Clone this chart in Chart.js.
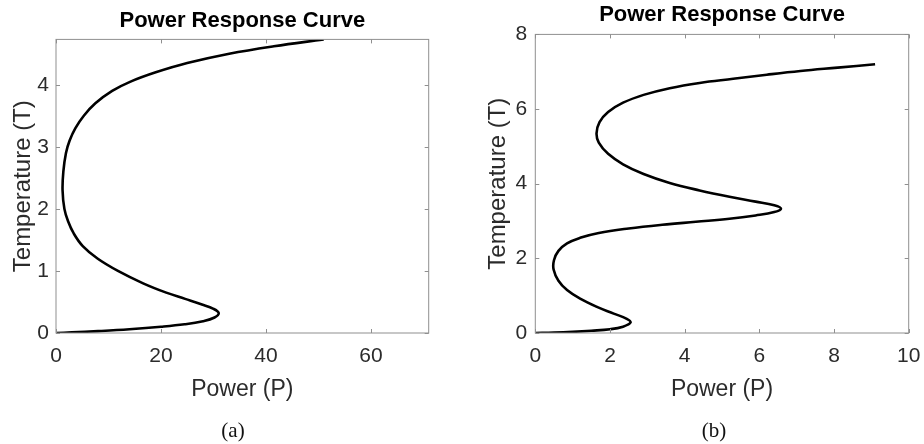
<!DOCTYPE html>
<html>
<head>
<meta charset="utf-8">
<script src="https://cdn.jsdelivr.net/npm/chart.js@4.4.1/dist/chart.umd.min.js"></script>
<style>
  body { margin: 0; background: #fff; }
  #lienzo { position: relative; width: 924px; height: 444px; overflow: hidden; }
  .grafica { position: absolute; top: 0; width: 462px; height: 444px; }
  .subtitulo {
    position: absolute; top: 430px; transform: translate(-50%, -50%);
    font-family: "Liberation Serif", "DejaVu Serif", serif; font-size: 21px; color: #111;
  }
</style>
</head>
<body>
<div id="lienzo">
  <div class="grafica" style="left:0"><canvas id="grafica-a"></canvas></div>
  <div class="grafica" style="left:462px"><canvas id="grafica-b"></canvas></div>
  <div class="subtitulo" style="left:233px">(a)</div>
  <div class="subtitulo" style="left:714px">(b)</div>
</div>
<script>
//DATOS GRAFICA (a)
const potenciaA = [0, 3, 8, 14, 20, 24.5, 28.0, 30.2, 31.0, 30.0, 27.8, 24.6, 21.0, 16.6, 11.8, 7.9, 5.1, 3.4, 2.3, 1.6, 1.25, 1.4, 1.9, 2.6, 3.7, 5.3, 7.5, 10.7, 14.2, 19.0, 25.0, 33.0, 41.5, 51.0];
const temperaturaA = [0, 0.01, 0.03, 0.06, 0.10, 0.14, 0.19, 0.25, 0.32, 0.39, 0.46, 0.55, 0.65, 0.80, 1.00, 1.20, 1.40, 1.60, 1.80, 2.00, 2.30, 2.60, 2.90, 3.10, 3.30, 3.50, 3.70, 3.90, 4.05, 4.20, 4.35, 4.50, 4.62, 4.73];
const ticksXA = [0, 20, 40, 60];
const ticksYA = [0, 1, 2, 3, 4];

//DATOS GRAFICA (b)
const potenciaB = [0, 0.5, 1.0, 1.5, 2.0, 2.35, 2.55, 2.45, 2.1, 1.65, 1.2, 0.85, 0.62, 0.49, 0.50, 0.62, 0.85, 1.2, 1.7, 2.5, 3.4, 4.3, 5.2, 5.9, 6.4, 6.58, 6.4, 5.9, 5.2, 4.4, 3.6, 2.9, 2.35, 1.95, 1.70, 1.64, 1.72, 1.95, 2.35, 2.9, 3.6, 4.4, 5.3, 6.2, 7.1, 8.1, 9.1];
const temperaturaB = [0, 0.01, 0.03, 0.06, 0.10, 0.17, 0.28, 0.38, 0.52, 0.70, 0.92, 1.15, 1.40, 1.70, 1.95, 2.20, 2.40, 2.55, 2.68, 2.80, 2.90, 2.98, 3.06, 3.15, 3.24, 3.33, 3.42, 3.52, 3.65, 3.82, 4.02, 4.26, 4.52, 4.80, 5.10, 5.35, 5.65, 5.92, 6.17, 6.38, 6.56, 6.70, 6.81, 6.92, 7.02, 7.11, 7.20];
const ticksXB = [0, 2, 4, 6, 8, 10];
const ticksYB = [0, 2, 4, 6, 8];

const titulo = "Power Response Curve";
const etiquetaX = "Power (P)";
const etiquetaY = "Temperature (T)";

const fuente = "'Liberation Sans', Arial, Helvetica, sans-serif";
const grisTexto = "#2b2b2b";
const grisCaja = "#8f8f8f";

//caja y marcas hacia dentro (estilo matlab)
const cajaMatlab = {
  id: "cajaMatlab",
  afterDatasetsDraw(chart) {
    const { ctx, chartArea: a, scales: { x, y } } = chart;
    ctx.save();
    ctx.strokeStyle = grisCaja;
    ctx.lineWidth = 1;
    ctx.strokeRect(a.left, a.top, a.right - a.left, a.bottom - a.top);
    ctx.beginPath();
    x.ticks.forEach(t => {
      const px = Math.round(x.getPixelForValue(t.value)) + 0.5;
      ctx.moveTo(px, a.bottom); ctx.lineTo(px, a.bottom - 4);
      ctx.moveTo(px, a.top); ctx.lineTo(px, a.top + 4);
    });
    y.ticks.forEach(t => {
      const py = Math.round(y.getPixelForValue(t.value)) + 0.5;
      ctx.moveTo(a.left, py); ctx.lineTo(a.left + 4, py);
      ctx.moveTo(a.right, py); ctx.lineTo(a.right - 4, py);
    });
    ctx.stroke();
    ctx.restore();
  }
};

function sinRelleno(s) {
  s.paddingLeft = 0;
  s.paddingRight = 0;
  s.paddingTop = 0;
  s.paddingBottom = 0;
}

function crearGrafica(id, potencias, temperaturas, conf) {
  const puntos = potencias.map((p, i) => ({ x: p, y: temperaturas[i] }));
  const ctx = document.getElementById(id).getContext("2d");
  return new Chart(ctx, {
    type: "scatter",
    data: {
      datasets: [{
        data: puntos,
        showLine: true,
        borderColor: "#000",
        borderWidth: 2.6,
        pointRadius: 0,
        tension: 0.4,
        fill: false
      }]
    },
    options: {
      responsive: true,
      maintainAspectRatio: false,
      animation: false,
      layout: { padding: { left: 0, right: conf.derecha, top: 0, bottom: 31 } },
      plugins: {
        legend: { display: false },
        tooltip: { enabled: false },
        title: {
          display: true,
          fullSize: false,
          text: titulo,
          color: "#000",
          font: { family: fuente, size: 22, weight: "bold" },
          padding: conf.paddingTitulo
        }
      },
      scales: {
        x: {
          type: "linear",
          min: 0,
          max: conf.maxX,
          afterFit: s => { s.height = 80; sinRelleno(s); },
          afterBuildTicks: s => { s.ticks = conf.ticksX.map(v => ({ value: v })); },
          grid: { display: false, drawTicks: false },
          border: { display: false },
          ticks: { color: grisTexto, padding: 11, font: { family: fuente, size: 21 }, maxRotation: 0 },
          title: {
            display: true, text: etiquetaX, color: grisTexto,
            font: { family: fuente, size: 23 },
            padding: { top: 0, bottom: 10 }
          }
        },
        y: {
          type: "linear",
          min: 0,
          max: conf.maxY,
          afterFit: s => { s.width = conf.anchoY; sinRelleno(s); },
          afterBuildTicks: s => { s.ticks = conf.ticksY.map(v => ({ value: v })); },
          grid: { display: false, drawTicks: false },
          border: { display: false },
          ticks: { color: grisTexto, padding: conf.paddingTicksY, font: { family: fuente, size: 21 } },
          title: {
            display: true, text: etiquetaY, color: grisTexto,
            font: { family: fuente, size: 24 },
            padding: { top: conf.paddingEtiquetaY, bottom: 0 }
          }
        }
      }
    },
    plugins: [cajaMatlab]
  });
}

crearGrafica("grafica-a", potenciaA, temperaturaA, {
  maxX: 71, maxY: 4.73, ticksX: ticksXA, ticksY: ticksYA,
  derecha: 33.3, anchoY: 56, paddingTicksY: 7, paddingEtiquetaY: 8.6,
  paddingTitulo: { top: 7.5, bottom: 5.5 }
});

crearGrafica("grafica-b", potenciaB, temperaturaB, {
  maxX: 10, maxY: 8, ticksX: ticksXB, ticksY: ticksYB,
  derecha: 15.3, anchoY: 73.3, paddingTicksY: 8, paddingEtiquetaY: 22.4,
  paddingTitulo: { top: 2, bottom: 6 }
});
</script>
</body>
</html>
